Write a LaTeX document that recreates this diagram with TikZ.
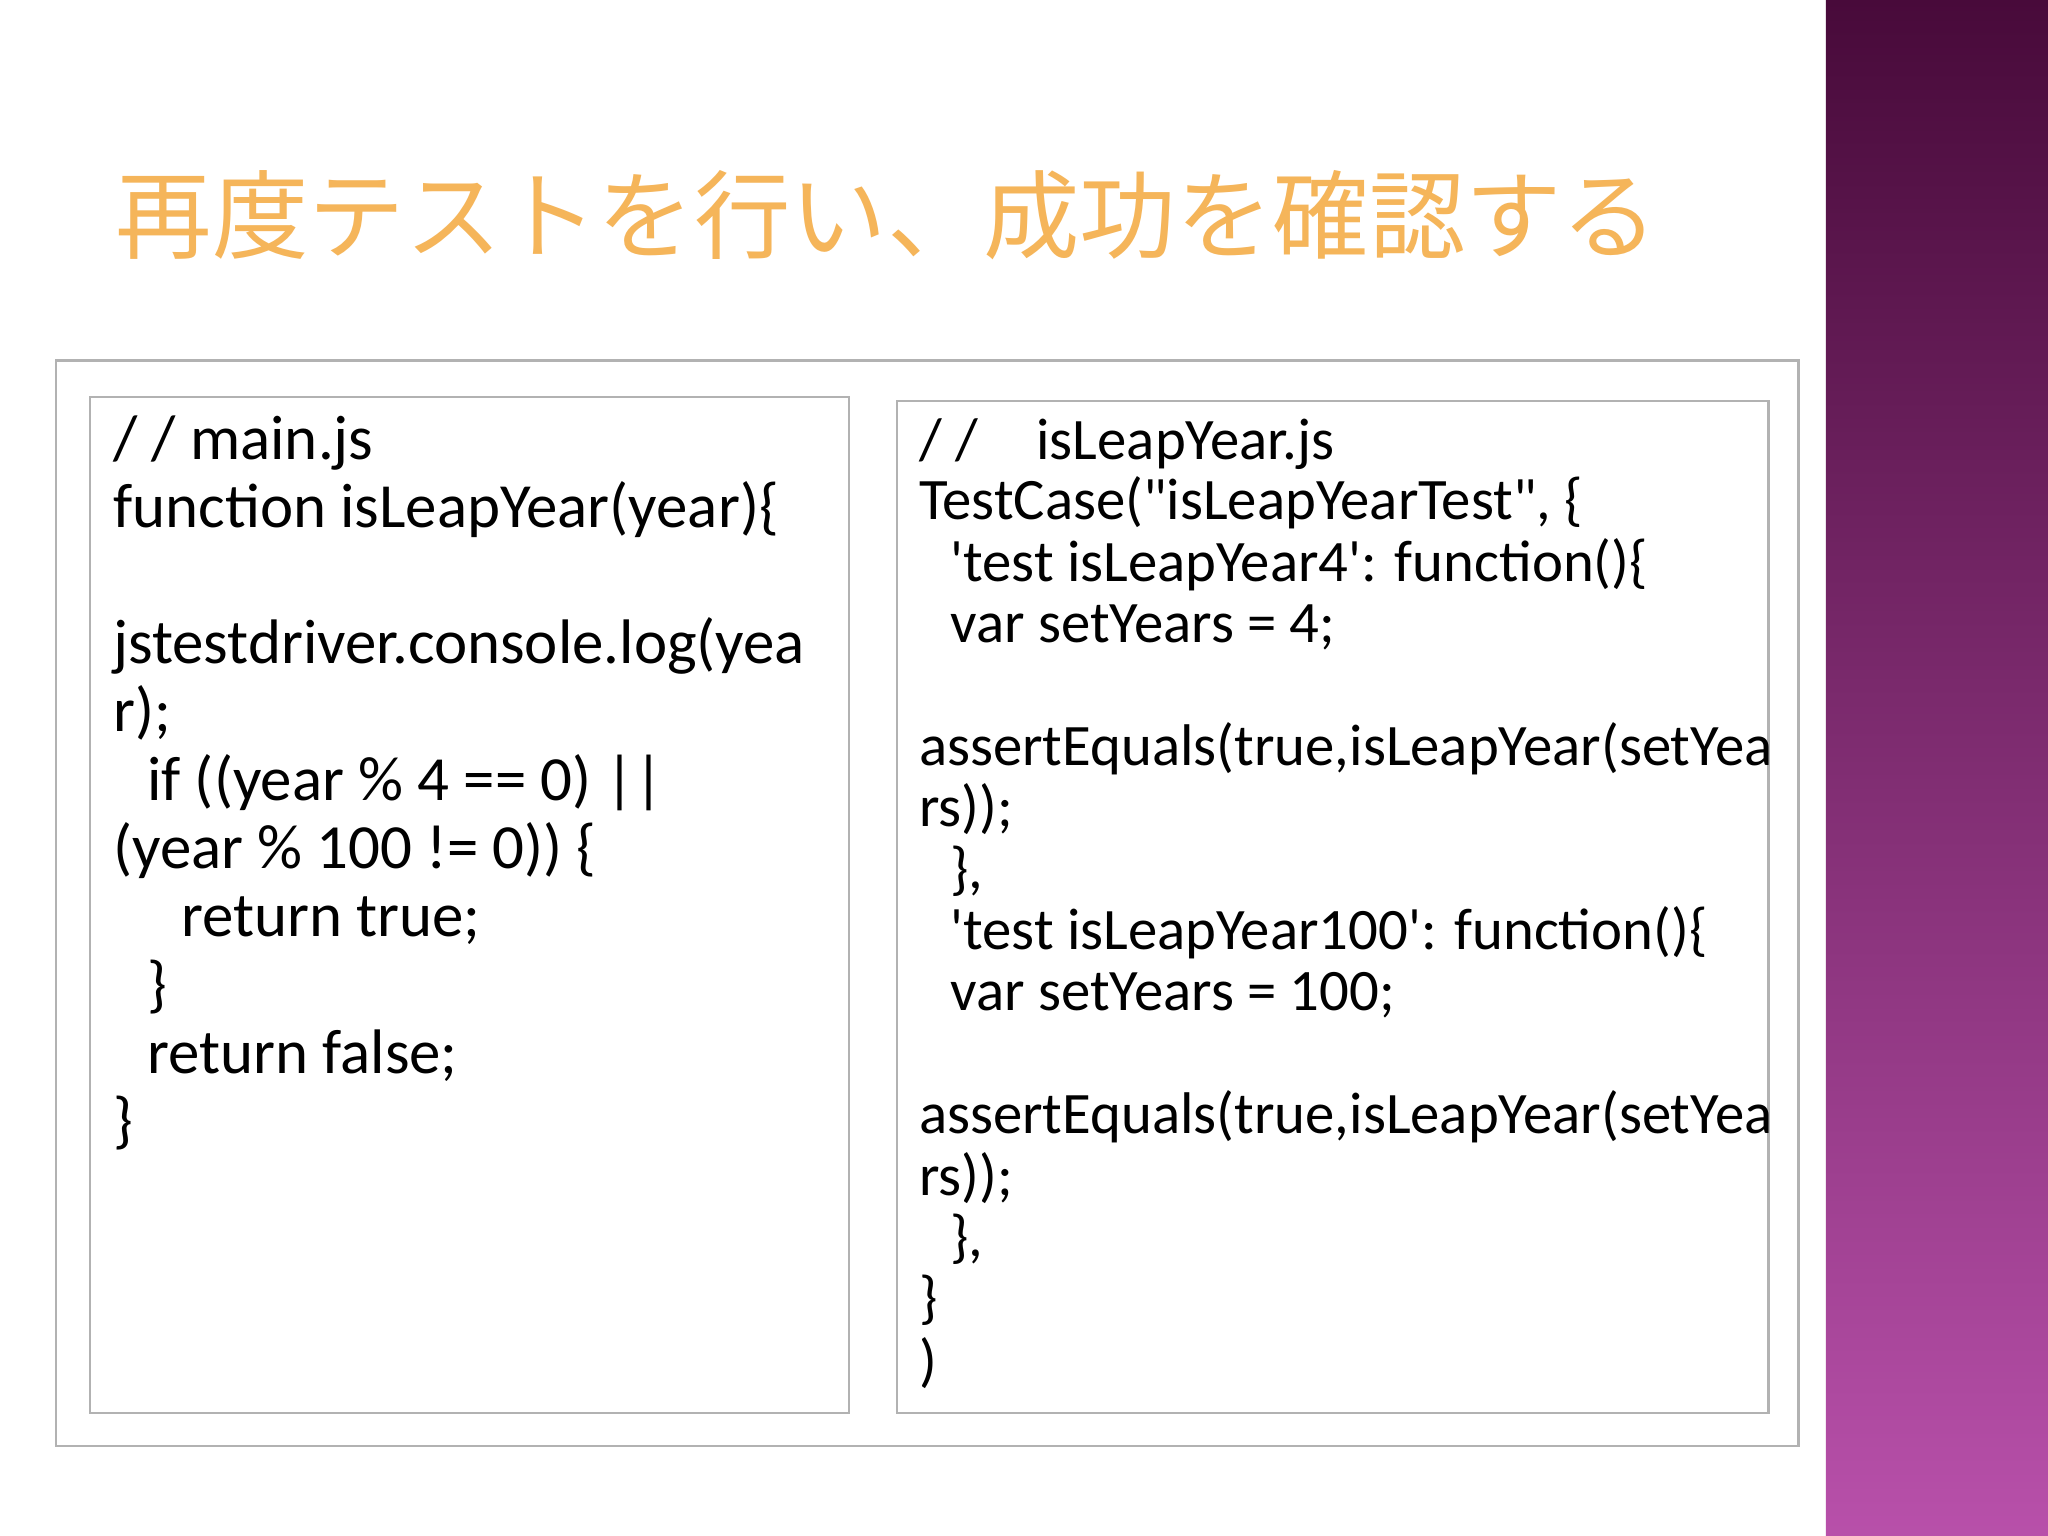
\documentclass[tikz,border=0pt]{standalone}
\usepackage{fontspec}
\newfontfamily\code{Carlito}
\newfontfamily\cjk{Noto Sans CJK JP}
\definecolor{ttl}{HTML}{F5B55A}
\tikzset{
 box/.style={draw=black!30,line width=0.18mm},
 ln/.style={anchor=base west,inner sep=0pt,font=\code\fontsize{13.7pt}{15pt}\selectfont},
 rn/.style={anchor=base west,inner sep=0pt,font=\code\fontsize{12.8pt}{15pt}\selectfont},
}
\begin{document}
\begin{tikzpicture}[x=0.1mm,y=-0.1mm]
\useasboundingbox (0,0) rectangle (1568,1176);
\fill[white] (0,0) rectangle (1568,1176);
\shade[top color={rgb,255:red,72;green,10;blue,58},bottom color={rgb,255:red,184;green,80;blue,170}] (1398,0) rectangle (1568,1176);
\node[anchor=west,inner sep=0pt,text=ttl,font=\cjk\fontsize{21pt}{22pt}\selectfont] (title) at (88,165) {再度テストを行い、成功を確認する};
\draw[box] (43,276) rectangle (1377,1107);
\draw[box] (69,304) rectangle (650,1082);
\draw[box] (687,307) rectangle (1354,1082);
% left
\node[ln] (l1) at (86,352) {/ / main.js};
\node[ln] (l2) at (86,404) {function isLeapYear(year)\{};
\node[ln] (l3) at (86,508) {jstestdriver.console.log(yea};
\node[ln] (l4) at (86,560) {r);};
\node[ln] (l5) at (112,613) {if ((year \% 4 == 0) ||};
\node[ln] (l6) at (86,665) {(year \% 100 != 0)) \{};
\node[ln] (l7) at (138,717) {return true;};
\node[ln] (l8) at (112,770) {\}};
\node[ln] (l9) at (112,822) {return false;};
\node[ln] (l10) at (86,874) {\}};
% right
\node[rn] (r1) at (703,352) {/ /\hspace{1em}isLeapYear.js};
\node[rn] (r2) at (703,398) {TestCase("isLeapYearTest", \{};
\node[rn] (r3) at (727,445) {'test isLeapYear4': function()\{};
\node[rn] (r4) at (727,492) {var setYears = 4;};
\node[rn] (r5) at (703,586) {assertEquals(true,isLeapYear(setYea};
\node[rn] (r6) at (703,633) {rs));};
\node[rn] (r7) at (727,680) {\},};
\node[rn] (r8) at (727,727) {'test isLeapYear100': function()\{};
\node[rn] (r9) at (727,774) {var setYears = 100;};
\node[rn] (r10) at (703,868) {assertEquals(true,isLeapYear(setYea};
\node[rn] (r11) at (703,915) {rs));};
\node[rn] (r12) at (727,962) {\},};
\node[rn] (r13) at (703,1009) {\}};
\node[rn] (r14) at (703,1057) {)};
\end{tikzpicture}
\end{document}
